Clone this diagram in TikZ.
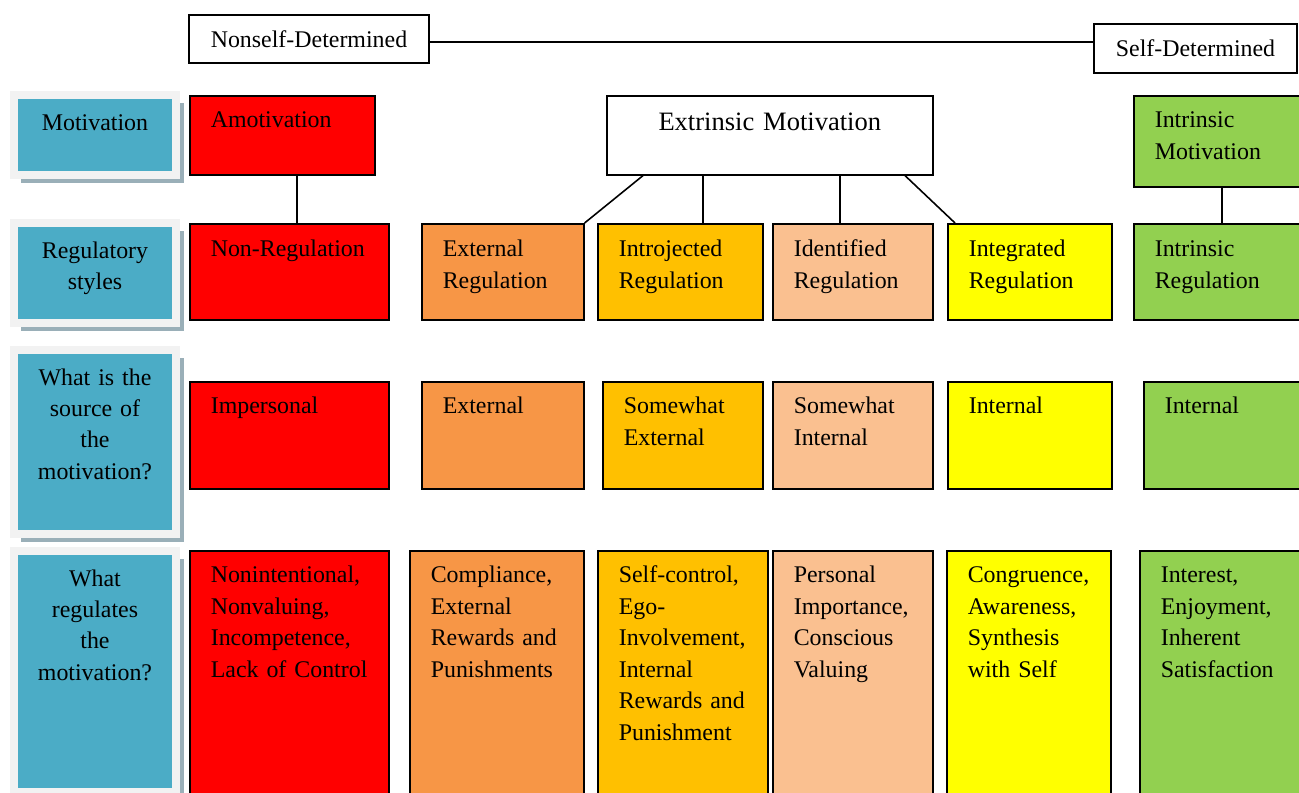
\documentclass[tikz,border=0pt]{standalone}
\usepackage{fontspec}
\setmainfont{Liberation Serif}
\usetikzlibrary{positioning,shadows}

\definecolor{headteal}{HTML}{4BACC6}
\definecolor{headframe}{HTML}{F2F2F2}
\definecolor{headshadow}{HTML}{9AAFB8}
\definecolor{amotred}{HTML}{FF0000}
\definecolor{extorange}{HTML}{F79646}
\definecolor{introamber}{HTML}{FFC000}
\definecolor{identpeach}{HTML}{FAC090}
\definecolor{integyellow}{HTML}{FFFF00}
\definecolor{intrgreen}{HTML}{92D050}

\hyphenpenalty=10000
\exhyphenpenalty=10000

\begin{document}
\begin{tikzpicture}[line width=0.9pt]
  \tikzset{block/.style={draw, rectangle, anchor=north west, align=left, inner xsep=0.42cm, inner ysep=0pt,
      font=\fontsize{13.6}{17.9}\selectfont},
    tag/.style={draw, rectangle, align=center, inner sep=0pt, font=\fontsize{13.6}{17.9}\selectfont},
    rowhead/.style={draw=headframe, fill=headteal, line width=0.16cm, anchor=north west, align=center,
      text width=3.24cm, inner sep=0pt, outer sep=0pt, text height=0.70cm, font=\fontsize{13.6}{17.9}\selectfont,
      drop shadow={shadow xshift=0.15cm, shadow yshift=-0.15cm, fill=headshadow, opacity=1}},
    motrow/.style={text height=0.64cm, text depth=0.94cm},
    regrow/.style={text height=0.66cm, text depth=1.26cm},
    srcrow/.style={text height=0.64cm, text depth=1.50cm},
    whatrow/.style={text height=0.64cm, text depth=4.56cm},
  }

  \useasboundingbox (0,0) rectangle (25.98,-15.84);
  \clip (0,0) rectangle (25.98,-15.84);

  % continuum
  \node[tag, minimum width=4.80cm, minimum height=0.96cm] (nonself) at (6.18,-0.78) {Nonself-Determined};
  \node[tag, minimum width=4.06cm, minimum height=0.98cm] (selfdet) at (23.91,-0.97) {Self-Determined};
  \draw ([yshift=-0.06cm]nonself.east) -- ([yshift=-0.06cm]nonself.east -| selfdet.west);

  % row headers
  \node[rowhead, text depth=0.90cm] (hmot) at (0.28,-1.90) {Motivation};
  \node[rowhead, text depth=1.30cm] (hreg) at (0.28,-4.46) {Regulatory\\styles};
  \node[rowhead, text depth=2.98cm] (hsrc) at (0.28,-7.00) {What~is~the\\source~of\\the\\motivation?};
  \node[rowhead, text depth=4.12cm] (hwhat) at (0.28,-11.02) {What\\regulates\\the\\motivation?};

  % motivation
  \node[block, motrow, fill=amotred, text width=2.86cm] (amot) at (3.78,-1.90) {Amotivation};
  \node[block, fill=white, align=center, text width=5.68cm, text height=0.70cm, text depth=0.88cm,
    font=\fontsize{15.1}{18}\selectfont] (extr) at (12.12,-1.90) {Extrinsic Motivation};
  \node[block, fill=intrgreen, text width=3.20cm, text height=0.64cm, text depth=1.18cm] (intr) at (22.66,-1.90) {Intrinsic\\Motivation};

  % regulatory styles
  \node[block, regrow, fill=amotred, text width=3.14cm] (nonreg) at (3.78,-4.46) {Non-Regulation};
  \node[block, regrow, fill=extorange, text width=2.40cm] (extreg) at (8.42,-4.46) {External\\Regulation};
  \node[block, regrow, fill=introamber, text width=2.46cm] (introreg) at (11.94,-4.46) {Introjected\\Regulation};
  \node[block, regrow, fill=identpeach, text width=2.36cm] (identreg) at (15.44,-4.46) {Identified\\Regulation};
  \node[block, regrow, fill=integyellow, text width=2.44cm] (integreg) at (18.94,-4.46) {Integrated\\Regulation};
  \node[block, regrow, fill=intrgreen, text width=3.20cm] (intrreg) at (22.66,-4.46) {Intrinsic\\Regulation};

  % source
  \node[block, srcrow, fill=amotred, text width=3.14cm] (impers) at (3.78,-7.62) {Impersonal};
  \node[block, srcrow, fill=extorange, text width=2.40cm] (extsrc) at (8.42,-7.62) {External};
  \node[block, srcrow, fill=introamber, text width=2.36cm] (swext) at (12.04,-7.62) {Somewhat\\External};
  \node[block, srcrow, fill=identpeach, text width=2.36cm] (swint) at (15.44,-7.62) {Somewhat\\Internal};
  \node[block, srcrow, fill=integyellow, text width=2.44cm] (intsrc) at (18.94,-7.62) {Internal};
  \node[block, srcrow, fill=intrgreen, text width=3.20cm] (intsrcb) at (22.86,-7.62) {Internal};

  % what regulates
  \node[block, whatrow, fill=amotred, text width=3.14cm] (nonint) at (3.78,-11.00) {Nonintentional,\\Nonvaluing,\\Incompetence,\\Lack~of~Control};
  \node[block, whatrow, fill=extorange, text width=2.64cm] (compl) at (8.18,-11.00) {Compliance,\\External\\Rewards~and\\Punishments};
  \node[block, whatrow, fill=introamber, text width=2.56cm] (selfctl) at (11.94,-11.00) {Self-control,\\Ego-\\Involvement,\\Internal\\Rewards~and\\Punishment};
  \node[block, whatrow, fill=identpeach, text width=2.36cm] (persimp) at (15.44,-11.00) {Personal\\Importance,\\Conscious\\Valuing};
  \node[block, whatrow, fill=integyellow, text width=2.44cm] (congr) at (18.92,-11.00) {Congruence,\\Awareness,\\Synthesis\\with~Self};
  \node[block, whatrow, fill=intrgreen, text width=3.20cm] (interest) at (22.78,-11.00) {Interest,\\Enjoyment,\\Inherent\\Satisfaction};

  \path[draw] ([xshift=0.29cm]amot.south) edge ([xshift=0.29cm]amot.south |- nonreg.north);
  \path[draw] ([xshift=1.78cm]intr.south west) edge ([xshift=1.78cm]intr.south west |- intrreg.north);
  \path[draw] ([xshift=0.74cm]extr.south west) edge (extreg.north east);
  \path[draw] ([xshift=1.94cm]extr.south west) edge ([xshift=1.94cm]extr.south west |- introreg.north);
  \path[draw] ([xshift=4.68cm]extr.south west) edge ([xshift=4.68cm]extr.south west |- identreg.north);
  \path[draw] ([xshift=5.98cm]extr.south west) edge ([xshift=0.16cm]integreg.north west);

\end{tikzpicture}
\end{document}
